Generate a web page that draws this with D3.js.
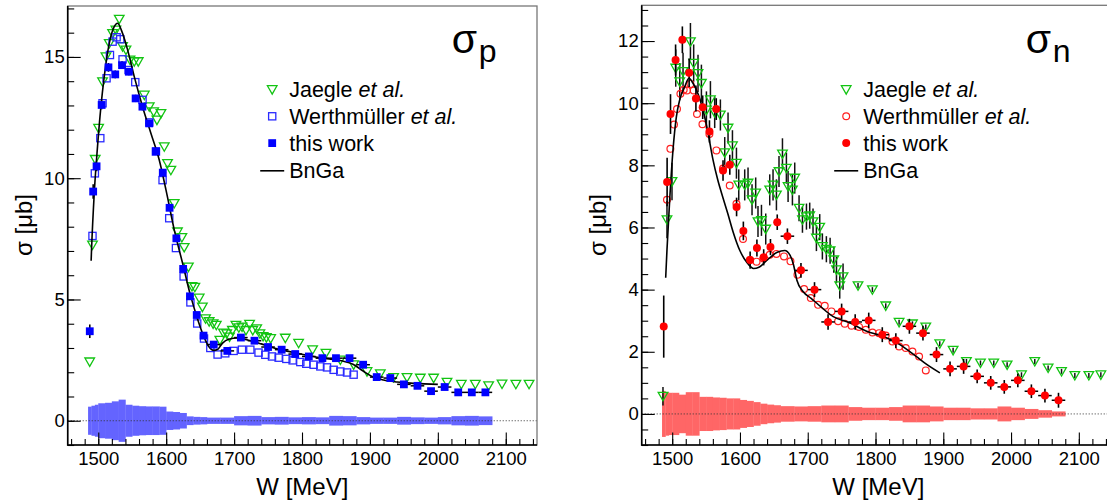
<!DOCTYPE html>
<html><head><meta charset="utf-8">
<script src="https://cdn.jsdelivr.net/npm/d3@7"></script>
<style>
body{margin:0;background:#fff}
svg{display:block}
text{font-family:"Liberation Sans",Arial,Helvetica,sans-serif;fill:#000}
</style>
</head><body>
<svg id="c" width="1107" height="503"></svg>
<script>
// ---------------- DATA ----------------
const xDomain = [1455, 2146];
const xMajorTicks = [1500, 1600, 1700, 1800, 1900, 2000, 2100];
const yTicksP = [0, 5, 10, 15];
const yTicksN = [0, 2, 4, 6, 8, 10, 12];
const xTitle = "W [MeV]";
const yTitle = "σ [μb]";
const legendLabels = [["Jaegle ", "et al."], ["Werthmüller ", "et al."], ["this work", ""], ["BnGa", ""]];

// bin edges of "this work" (both panels)
const binEdges = [1485,1490,1495,1500,1510,1520,1530,1540,1550,1560,1570,1580,1590,1600,1610,1620,1630,1640,1650,1660,
  1680,1700,1720,1740,1760,1780,1800,1820,1840,1860,1880,1900,1920,1940,1960,1980,2000,2020,2040,2060,2080];

// ---- proton ----
const thisWorkP = [3.69,9.45,10.49,13.02,14.57,14.28,14.66,14.39,13.29,12.95,12.26,11.11,10.23,8.78,7.52,6.26,5.13,4.36,3.51,3.14,
  2.88,3.43,3.30,3.04,2.93,2.75,2.65,2.58,2.58,2.58,2.31,1.80,1.76,1.50,1.44,1.22,1.39,1.17,1.17,1.17];
const thisWorkPErr = [0.28,0.3,0.2,0.18,0.18,0.16,0.16,0.15,0.15,0.15,0.14,0.14,0.13,0.13,0.12,0.12,0.11,0.11,0.1,0.1,
  0.08,0.1,0.1,0.1,0.1,0.08,0.08,0.08,0.08,0.08,0.08,0.08,0.08,0.08,0.08,0.08,0.08,0.08,0.08,0.08];
const sysP = [0.58,0.62,0.66,0.72,0.74,0.8,0.87,0.66,0.62,0.6,0.59,0.59,0.58,0.38,0.36,0.32,0.18,0.16,0.15,0.13,
  0.13,0.19,0.2,0.15,0.16,0.14,0.15,0.14,0.2,0.19,0.15,0.13,0.13,0.16,0.14,0.13,0.15,0.19,0.2,0.18];

const jaegleP_W = [1487.4,1491.5,1495.5,1500.5,1506.3,1511.3,1516.2,1521.1,1526,1530.9,1535.8,1540.8,1546.7,1553,1558.9,1567.8,1575.1,1581.5,1586.4,1592.3,
  1597.2,1602,1606.9,1611.8,1616.6,1623.1,1626.5,1632.7,1638,1642.2,1648.6,1653.3,1658,1663.3,1669.1,1673.8,1679,1684.3,1689.1,1693.3,
  1697.5,1702.7,1707,1711.7,1717.5,1722.8,1727.5,1733.3,1738,1742.7,1747.5,1753.8,1775.4,1795,1815.6,1835.3,1856.4,1876,1895.7,1915.3,
  1934.9,1954.6,1974.2,1993.8,2013.5,2034.6,2055.2,2074.8,2094.5,2114.9,2134.3];
const jaegleP = [2.43,7.25,10.78,12.06,13.98,15.01,15.56,15.97,16.11,16.56,15.43,15.29,14.88,14.81,14.81,13.43,12.95,12.74,12.4,12.67,
  11.3,10.61,10.33,8.96,7.79,7.56,7.15,6.34,5.54,5.51,5.06,4.69,4.21,4.09,4.0,3.94,3.32,3.62,3.59,3.46,
  3.73,3.94,3.84,3.87,3.73,3.98,3.73,3.80,3.59,3.48,3.43,3.39,3.41,3.20,2.93,2.79,2.51,2.31,2.03,1.94,
  1.79,1.79,1.76,1.76,1.59,1.51,1.51,1.45,1.52,1.51,1.51];

const werthP_W = [1491.5,1495,1503,1506.3,1512.2,1517.2,1521.1,1527,1532.4,1535.8,1544.6,1554.5,1565.2,1575.1,1584.9,1594.7,1604.5,1614.4,1625.7,1635.7,
  1645.7,1655.7,1665,1675.7,1687,1699.3,1711.6,1723.9,1736,1746,1755.8,1765.6,1776.9,1786.2,1797.5,1806.3,1817.1,1827,1836.8,1846.6,
  1856.4,1866.3,1876];
const werthP = [7.62,10.2,11.65,13.09,14.12,15.08,15.63,15.81,15.73,14.9,14.46,13.96,13.23,12.3,11.1,9.92,8.35,7.12,5.95,4.88,
  4.01,3.39,3.0,2.73,2.78,2.88,2.93,2.93,2.81,2.72,2.65,2.6,2.55,2.49,2.42,2.35,2.31,2.24,2.2,2.1,
  2.03,1.99,1.9];

const bngaP_W = [1489.5,1490.1,1494.1,1498.9,1503.9,1508.8,1516.2,1523.5,1528.4,1535.8,1543.2,1553,1565.2,1577.5,1589.8,1599.7,1611.9,
  1625,1635,1645,1655,1663,1670,1676,1683,1692,1705,1720,1740,1760,1780,1800,1820,1840,1860,1875,1890,1905,1920,1940,1960,1980,2000];
const bngaP = [6.6,7.05,9.38,11.3,12.95,14.19,15.56,16.25,16.39,15.97,15.29,14.19,12.95,11.85,10.75,9.52,7.87,
  6.4,5.25,4.3,3.5,3.05,2.9,2.95,3.2,3.36,3.41,3.33,3.17,2.99,2.86,2.74,2.63,2.55,2.46,2.33,2.05,1.8,1.68,1.6,1.55,1.52,1.5];

// ---- neutron ----
const thisWorkN = [2.81,7.46,9.65,11.39,12.04,10.98,10.15,9.87,9.09,9.81,7.83,8.02,6.66,5.89,4.95,5.34,5.04,5.37,6.17,5.72,
  4.62,4.0,2.96,3.30,2.96,3.01,2.55,2.36,2.82,2.60,1.91,1.45,1.53,1.21,1.00,0.87,1.08,0.73,0.59,0.44];
const thisWorkNErr = [1.0,0.78,0.64,0.5,0.43,0.46,0.42,0.38,0.36,0.35,0.33,0.32,0.3,0.3,0.28,0.27,0.26,0.26,0.25,0.25,
  0.24,0.24,0.25,0.25,0.25,0.25,0.24,0.24,0.24,0.24,0.24,0.24,0.24,0.22,0.22,0.22,0.22,0.22,0.22,0.24];
const sysN = [0.74,0.7,0.68,0.68,0.62,0.7,0.7,0.55,0.55,0.53,0.52,0.5,0.5,0.45,0.42,0.38,0.33,0.3,0.28,0.25,
  0.24,0.25,0.27,0.27,0.22,0.2,0.2,0.22,0.27,0.27,0.24,0.2,0.2,0.18,0.18,0.24,0.2,0.16,0.12,0.08];

const jaegleN_W = [1486.4,1492.3,1499.7,1505.2,1511.1,1516,1526.9,1531.7,1538.1,1543.1,1550.5,1556.4,1562.7,1571.1,1577.5,1582.4,1588.9,1594.8,1598.2,1607,
  1611.9,1617.8,1623.2,1626.6,1631.7,1638,1643.9,1648.8,1653.8,1657.6,1662.7,1668.5,1671,1677.4,1680.8,1687.2,1692.2,1698.1,1702.9,1707.8,
  1712.8,1717.7,1721.6,1727.5,1733,1738.4,1742.4,1747.2,1752.1,1774.2,1795.4,1815.1,1834.8,1854.5,1874.2,1894.8,1914.5,1934.2,1954.9,1974.5,
  1994.2,2015.4,2035,2054.7,2074.5,2094.1,2114.8,2132.5];
const jaegleN = [0.57,6.25,7.48,11.13,10.69,11.02,11.98,11.29,10.96,10.64,9.78,10.11,9.70,9.62,8.41,9.20,8.63,8.07,7.37,7.37,
  7.43,6.89,7.11,6.19,6.23,5.95,7.21,7.37,7.05,7.80,8.37,7.91,7.32,7.21,7.59,6.62,6.25,6.35,6.38,6.19,
  5.66,6.01,5.39,5.30,5.25,4.96,4.64,4.13,4.42,4.13,4.00,3.48,2.95,2.90,2.80,2.26,2.05,1.69,1.64,1.64,
  1.58,1.26,1.69,1.48,1.37,1.24,1.24,1.26];
const jaegleNErr = [0.3,0.6,0.6,0.6,0.6,0.6,0.6,0.6,0.6,0.6,0.6,0.6,0.5,0.5,0.5,0.5,0.5,0.5,0.5,0.5,
  0.5,0.5,0.5,0.5,0.5,0.5,0.5,0.5,0.5,0.5,0.5,0.5,0.5,0.5,0.5,0.42,0.42,0.42,0.42,0.42,
  0.42,0.42,0.42,0.42,0.42,0.42,0.42,0.42,0.42,0.08,0.08,0.08,0.08,0.08,0.08,0.08,0.08,0.08,0.08,0.08,
  0.08,0.08,0.08,0.08,0.08,0.08,0.08,0.08];

const werthN_W = [1492.3,1497.3,1502.7,1507.1,1512.1,1517,1521.8,1526.9,1531.7,1536.6,1544.6,1554.9,1565.2,1575,1584.9,1594.8,1604.5,1614.5,1624.5,1634.5,
  1643.9,1653.8,1665,1674.5,1684.8,1694.6,1704.5,1715.2,1725.1,1735,1744.8,1754.6,1764.6,1775.7,1785.6,1795.5,1805.3,1815.1,1825,1834.8,
  1844.6,1854.5,1864.3,1874.2];
const werthN = [6.89,8.53,9.31,9.81,10.3,10.43,10.41,10.62,10.41,9.65,9.32,9.01,8.48,7.9,7.35,6.76,5.63,4.95,4.9,5.0,
  5.12,5.15,5.07,4.91,4.48,4.02,3.73,3.51,3.48,3.30,2.98,2.90,2.84,2.80,2.71,2.62,2.60,2.52,2.33,2.17,
  2.12,2.01,1.85,1.40];

const bngaN_W = [1490.4,1492.3,1496.3,1501.2,1506.2,1511,1518.5,1524.8,1530.7,1535.7,1545.5,1552.9,1560,1567,1575,1582,1590,1600,1610,1620,
  1628,1640,1655,1666,1674,1679,1684,1693,1705,1713,1737,1762,1787,1811,1836,1860,1875,1895];
const bngaN = [4.38,5.28,6.89,8.5,9.57,10.1,10.53,10.8,10.64,10.43,9.78,9.04,8.2,7.55,6.95,6.45,5.85,5.25,4.88,4.68,
  4.72,4.95,5.2,5.26,5.1,4.8,4.3,3.94,3.72,3.57,3.14,2.93,2.66,2.5,2.23,1.85,1.6,1.32];

// ---------------- DRAWING ----------------
const svg = d3.select("#c");
svg.append("rect").attr("width",1107).attr("height",503).attr("fill","#fff");

const GREEN = "#12c412";

function triDown(sel, x, y) {
  sel.append("path")
    .attr("d", `M${x-4.8},${y-3.8}L${x+4.8},${y-3.8}L${x},${y+4.6}Z`)
    .attr("fill","none").attr("stroke",GREEN).attr("stroke-width",1.3);
}
function openSq(sel, x, y, col) {
  sel.append("rect").attr("x",x-3.6).attr("y",y-3.6).attr("width",7.2).attr("height",7.2)
    .attr("fill","none").attr("stroke",col).attr("stroke-width",1.3);
}
function fullSq(sel, x, y, col) {
  sel.append("rect").attr("x",x-3.9).attr("y",y-3.9).attr("width",7.8).attr("height",7.8).attr("fill",col);
}
function openCirc(sel, x, y, col) {
  sel.append("circle").attr("cx",x).attr("cy",y).attr("r",3.4).attr("fill","none").attr("stroke",col).attr("stroke-width",1.2);
}
function fullCirc(sel, x, y, col) {
  sel.append("circle").attr("cx",x).attr("cy",y).attr("r",4).attr("fill",col);
}

function panel(cfg) {
  const g = svg.append("g");
  const x = d3.scaleLinear().domain(xDomain).range([cfg.x0, cfg.x1]);
  const y = d3.scaleLinear().domain(cfg.yDomain).range([cfg.yBot, cfg.yTop]);

  // systematic band
  const bins = binEdges.slice(0, -1).map((lo, i) => ({lo, hi: binEdges[i+1], e: cfg.sys[i]}));
  g.append("g").selectAll("rect").data(bins).join("rect")
    .attr("x", d => x(d.lo)).attr("width", d => x(d.hi) - x(d.lo) + 0.3)
    .attr("y", d => y(d.e)).attr("height", d => y(-d.e) - y(d.e))
    .attr("fill", cfg.bandColor);

  // zero line
  g.append("line").attr("x1", cfg.x0).attr("x2", cfg.x1).attr("y1", y(0)).attr("y2", y(0))
    .attr("stroke", "#333").attr("stroke-width", 1).attr("stroke-dasharray", "1,2");

  // Jaegle
  const jg = g.append("g");
  if (cfg.jaegleErr) {
    cfg.jaegleW.forEach((w, i) => {
      jg.append("line").attr("x1", x(w)).attr("x2", x(w))
        .attr("y1", y(cfg.jaegle[i] - cfg.jaegleErr[i])).attr("y2", y(cfg.jaegle[i] + cfg.jaegleErr[i]))
        .attr("stroke", "#111").attr("stroke-width", 1.5);
    });
  }
  cfg.jaegleW.forEach((w, i) => triDown(jg, x(w), y(cfg.jaegle[i])));

  // Werthmüller
  const wg = g.append("g");
  cfg.werthW.forEach((w, i) => cfg.openMark(wg, x(w), y(cfg.werth[i]), cfg.openColor));

  // BnGa curve
  const line = d3.line().x(d => x(d[0])).y(d => y(d[1])).curve(d3.curveMonotoneX);
  g.append("path").datum(cfg.bngaW.map((w, i) => [w, cfg.bnga[i]]))
    .attr("d", line).attr("fill", "none").attr("stroke", "#000").attr("stroke-width", 1.6);

  // this work
  const tg = g.append("g");
  bins.forEach((b, i) => {
    const c = (b.lo + b.hi) / 2, v = cfg.tw[i], e = cfg.twErr[i];
    tg.append("line").attr("x1", x(b.lo)).attr("x2", x(b.hi)).attr("y1", y(v)).attr("y2", y(v))
      .attr("stroke", "#000").attr("stroke-width", 1.5);
    tg.append("line").attr("x1", x(c)).attr("x2", x(c)).attr("y1", y(v - e)).attr("y2", y(v + e))
      .attr("stroke", "#000").attr("stroke-width", 1.6);
  });
  bins.forEach((b, i) => cfg.fullMark(tg, x((b.lo + b.hi) / 2), y(cfg.tw[i]), cfg.fullColor));

  // frame
  g.append("rect").attr("x", cfg.x0).attr("y", cfg.yTop).attr("width", cfg.x1 - cfg.x0).attr("height", cfg.yBot - cfg.yTop)
    .attr("fill", "none").attr("stroke", "#777").attr("stroke-width", 1.3);

  // axes
  const fs = 18.5;
  const xMinor = d3.axisBottom(x).tickValues(d3.range(1460, 2141, 20)).tickSize(-6).tickFormat("");
  const xMaj = d3.axisBottom(x).tickValues(xMajorTicks).tickSize(-12.5).tickPadding(7).tickFormat(d3.format("d"));
  [xMinor, xMaj].forEach(a => {
    const ag = g.append("g").attr("transform", `translate(0,${cfg.yBot})`).call(a);
    ag.select(".domain").remove();
    ag.selectAll("line").attr("stroke", "#000").attr("stroke-width", 1.1);
    ag.selectAll("text").attr("font-size", fs).attr("font-family", null);
    ag.attr("font-family", null);
  });
  const yMinor = d3.axisLeft(y).tickValues(d3.range(cfg.yMinorStart, cfg.yMinorEnd + 0.001, cfg.yMinorStep)).tickSize(-6.5).tickFormat("");
  const yMaj = d3.axisLeft(y).tickValues(cfg.yTicks).tickSize(-13).tickPadding(3).tickFormat(d3.format("d"));
  [yMinor, yMaj].forEach(a => {
    const ag = g.append("g").attr("transform", `translate(${cfg.x0},0)`).call(a);
    ag.select(".domain").remove();
    ag.selectAll("line").attr("stroke", "#000").attr("stroke-width", 1.1);
    ag.selectAll("text").attr("font-size", fs).attr("font-family", null);
    ag.attr("font-family", null);
  });
  g.append("line").attr("x1", cfg.x0).attr("x2", cfg.x0).attr("y1", cfg.yTop).attr("y2", cfg.yBot + 0.7)
    .attr("stroke", "#000").attr("stroke-width", 1.6);
  g.append("line").attr("x1", cfg.x0).attr("x2", cfg.x1).attr("y1", cfg.yBot).attr("y2", cfg.yBot)
    .attr("stroke", "#000").attr("stroke-width", 1.6);

  // titles
  g.append("text").attr("x", (cfg.x0 + Math.min(cfg.x1, 1107)) / 2 + cfg.xtShift).attr("y", 495)
    .attr("text-anchor", "middle").attr("font-size", 24).text(xTitle);
  g.append("text").attr("transform", `translate(${cfg.x0 - 36},225) rotate(-90)`)
    .attr("text-anchor", "middle").attr("font-size", 24).text(yTitle);
  g.append("text").attr("x", cfg.x0 + 384).attr("y", 53).attr("font-size", 41).text("σ");
  g.append("text").attr("x", cfg.x0 + 411).attr("y", 62).attr("font-size", 32).text(cfg.sub);

  // legend
  const lx = cfg.x0 + 204.5, ly = [89.5, 116.3, 143.1, 170.8];
  const lg = g.append("g");
  triDown(lg, lx, ly[0]);
  cfg.openMark(lg, lx, ly[1], cfg.openColor);
  cfg.fullMark(lg, lx, ly[2], cfg.fullColor);
  lg.append("line").attr("x1", lx - 12).attr("x2", lx + 12).attr("y1", ly[3]).attr("y2", ly[3])
    .attr("stroke", "#000").attr("stroke-width", 1.6);
  legendLabels.forEach((lab, i) => {
    const t = lg.append("text").attr("x", lx + 17).attr("y", ly[i] + 7.6).attr("font-size", 21.5);
    t.append("tspan").text(lab[0]);
    if (lab[1]) t.append("tspan").attr("font-style", "italic").text(lab[1]);
  });
}

panel({
  x0: 67.7, x1: 537, yTop: 6, yBot: 445, yDomain: [-1, 17.1],
  yTicks: yTicksP, yMinorStart: -1, yMinorEnd: 17, yMinorStep: 1,
  sys: sysP, bandColor: "#6464ff",
  jaegleW: jaegleP_W, jaegle: jaegleP, jaegleErr: null,
  werthW: werthP_W, werth: werthP, openMark: openSq, openColor: "#2a2aff",
  bngaW: bngaP_W, bnga: bngaP,
  tw: thisWorkP, twErr: thisWorkPErr, fullMark: fullSq, fullColor: "#0000ff",
  sub: "p", xtShift: 0
});
panel({
  x0: 641.7, x1: 1110, yTop: 5.3, yBot: 445, yDomain: [-1, 13.15],
  yTicks: yTicksN, yMinorStart: -1, yMinorEnd: 13, yMinorStep: 0.5,
  sys: sysN, bandColor: "#ff6666",
  jaegleW: jaegleN_W, jaegle: jaegleN, jaegleErr: jaegleNErr,
  werthW: werthN_W, werth: werthN, openMark: openCirc, openColor: "#ff2020",
  bngaW: bngaN_W, bnga: bngaN,
  tw: thisWorkN, twErr: thisWorkNErr, fullMark: fullCirc, fullColor: "#ff0000",
  sub: "n", xtShift: 4
});
</script>
</body></html>
